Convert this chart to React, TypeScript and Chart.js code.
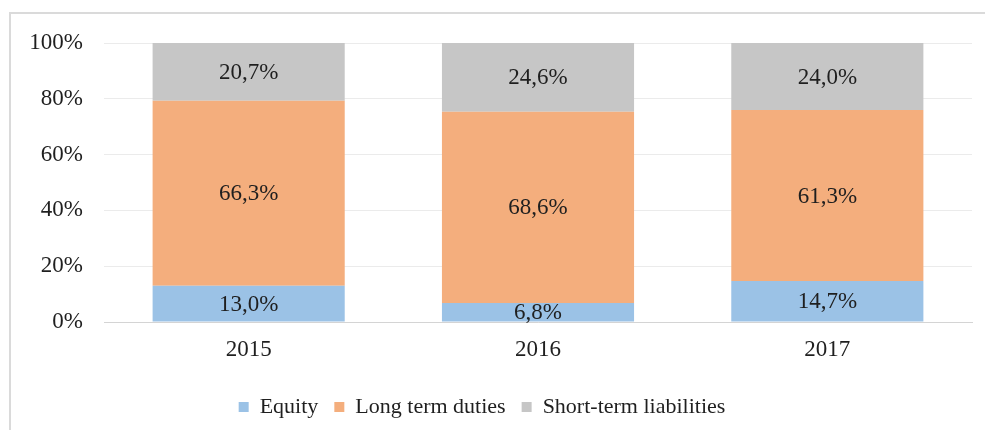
import React, { useEffect, useRef } from "react";
import { Chart, registerables } from "chart.js";

Chart.register(...registerables);

const categories = ["2015", "2016", "2017"];
const equity = [13.0, 6.8, 14.7];
const longTerm = [66.3, 68.6, 61.3];
const shortTerm = [20.7, 24.6, 24.0];
const seriesNames = ["Equity", "Long term duties", "Short-term liabilities"];
const yTicks = [0, 20, 40, 60, 80, 100];

const FONT = '"Liberation Serif", "Times New Roman", serif';

const dataLabelPlugin = {
  id: "dataLabels",
  afterDatasetsDraw(chart: any) {
    const ctx = chart.ctx;
    ctx.save();
    ctx.font = `23px ${FONT}`;
    ctx.fillStyle = "#1f1f1f";
    ctx.textAlign = "center";
    ctx.textBaseline = "middle";
    chart.data.datasets.forEach((ds: any, i: number) => {
      const meta = chart.getDatasetMeta(i);
      meta.data.forEach((bar: any, j: number) => {
        const p = bar.getProps(["x", "y", "base"], true);
        const v = ds.data[j] as number;
        ctx.fillText(v.toFixed(1).replace(".", ",") + "%", p.x, (p.y + p.base) / 2 + 1);
      });
    });
    ctx.restore();
  },
};

const legendTweakPlugin = {
  id: "legendTweak",
  beforeInit(chart: any) {
    const legend = chart.legend;
    if (!legend) return;
    const origFit = legend.fit;
    legend.fit = function () {
      origFit.call(this);
      this.height = 50;
    };
    const origDraw = legend.draw;
    legend.draw = function (...args: any[]) {
      const ctx = this.ctx;
      ctx.save();
      ctx.translate(-9, 0);
      origDraw.apply(this, args);
      ctx.restore();
    };
  },
};

export default function App() {
  const ref = useRef<HTMLCanvasElement | null>(null);
  useEffect(() => {
    if (!ref.current) return;
    const chart = new Chart(ref.current, {
      type: "bar",
      data: {
        labels: categories,
        datasets: [
          { label: seriesNames[0], data: equity, backgroundColor: "#9BC2E6" },
          { label: seriesNames[1], data: longTerm, backgroundColor: "#F4AE7D" },
          { label: seriesNames[2], data: shortTerm, backgroundColor: "#C6C6C6" },
        ],
      },
      options: {
        animation: false,
        responsive: false,
        devicePixelRatio: 1,
        layout: { padding: { left: 10, right: 13, top: 43, bottom: 0 } },
        datasets: { bar: { categoryPercentage: 1, barPercentage: 0.664 } } as any,
        scales: {
          x: {
            stacked: true,
            grid: { display: false, drawTicks: false },
            border: { display: true, color: "#D4D4D4", width: 1 },
            ticks: { font: { family: FONT, size: 23 }, color: "#1f1f1f", padding: 14 },
            afterFit(scale: any) {
              scale.height = 58;
            },
          },
          y: {
            stacked: true,
            min: 0,
            max: 100,
            afterBuildTicks(scale: any) {
              scale.ticks = yTicks.map((v) => ({ value: v }));
            },
            grid: { color: "#EBEBEB", drawTicks: false, lineWidth: 1 },
            border: { display: false },
            ticks: {
              font: { family: FONT, size: 23 },
              color: "#1f1f1f",
              padding: 21,
              callback: (v: any) => v + "%",
            },
            afterFit(scale: any) {
              scale.width = 94;
            },
          },
        },
        plugins: {
          legend: {
            position: "bottom",
            labels: {
              font: { family: FONT, size: 22 },
              color: "#1f1f1f",
              boxWidth: 10,
              boxHeight: 10,
              padding: 16,
            },
          },
          tooltip: { enabled: false },
        },
      },
      plugins: [dataLabelPlugin, legendTweakPlugin],
    } as any);
    return () => chart.destroy();
  }, []);

  return (
    <div style={{ position: "absolute", left: 0, top: 0, width: 985, height: 430, overflow: "hidden", background: "#fff" }}>
      <div
        style={{
          position: "absolute",
          left: 9,
          top: 12,
          width: 1100,
          height: 1100,
          border: "2px solid #DADADA",
          boxSizing: "border-box",
        }}
      />
      <canvas ref={ref} width={985} height={430} style={{ position: "absolute", left: 0, top: 0 }} />
    </div>
  );
}
